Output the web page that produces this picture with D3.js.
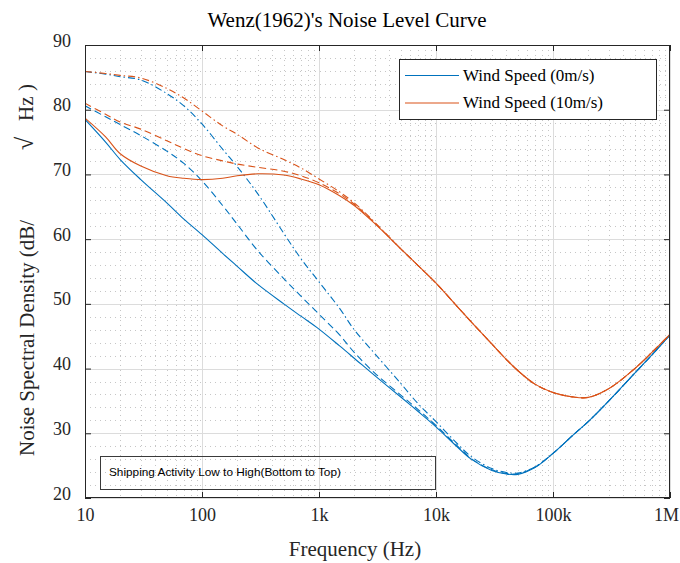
<!DOCTYPE html>
<html>
<head>
<meta charset="utf-8">
<script src="https://cdn.jsdelivr.net/npm/d3@7/dist/d3.min.js"></script>
<style>
  body { margin: 0; background: #fff; }
  svg text { font-family: "Liberation Serif", "Times New Roman", serif; fill: #262626; }
</style>
</head>
<body>
<svg id="chart" width="680" height="563"></svg>
<script>
// Frequencies (Hz) at which each Wenz curve is sampled
const freqs = [10, 15, 20, 30, 50, 70, 100, 150, 200, 300, 500, 700,
  1e3, 1.5e3, 2e3, 3e3, 5e3, 7e3, 1e4, 1.5e4, 2e4, 3e4, 4e4, 5e4, 7e4,
  1e5, 1.5e5, 2e5, 3e5, 5e5, 7e5, 1e6];

// Wind 0 m/s: low / medium / high shipping (dB re 1 uPa/sqrt(Hz))
const wind0Low = [78.5, 75.0, 72.3, 69.2, 65.6, 63.1, 60.7, 57.8, 55.8, 53.0, 50.0, 48.1,
  46.1, 43.5, 41.6, 38.9, 35.6, 33.4, 31.0, 28.0, 26.0, 24.25, 23.7, 23.65, 24.7,
  26.9, 29.8, 31.8, 35.0, 39.3, 42.1, 45.2];
const wind0Mid = [80.6, 78.9, 77.7, 76.0, 73.6, 71.7, 69.0, 65.2, 62.3, 58.2, 53.9, 51.2,
  48.4, 45.2, 42.5, 39.3, 35.9, 33.7, 31.2, 28.15, 26.1, 24.35, 23.8, 23.75, 24.75,
  26.9, 29.8, 31.8, 35.0, 39.3, 42.1, 45.2];
const wind0High = [85.9, 85.5, 85.1, 84.6, 82.5, 80.6, 77.8, 73.9, 71.2, 67.0, 60.9, 57.0,
  53.4, 49.3, 46.0, 42.3, 37.7, 34.6, 31.8, 28.5, 26.4, 24.55, 23.95, 23.85, 24.8,
  26.9, 29.8, 31.8, 35.0, 39.3, 42.1, 45.2];

// Wind 10 m/s: low / medium / high shipping
const wind10Low = [78.7, 75.8, 73.2, 71.3, 69.8, 69.4, 69.2, 69.4, 69.8, 70.1, 69.9, 69.3,
  68.4, 66.7, 65.2, 62.4, 58.5, 55.95, 53.2, 49.7, 47.2, 43.8, 41.4, 39.7, 37.6,
  36.3, 35.6, 35.55, 36.9, 40.0, 42.5, 45.3];
const wind10Mid = [81.0, 79.3, 78.1, 77.0, 75.2, 74.0, 72.9, 72.1, 71.6, 71.1, 70.5, 69.8,
  68.7, 67.0, 65.4, 62.5, 58.5, 55.95, 53.2, 49.7, 47.2, 43.8, 41.4, 39.7, 37.6,
  36.3, 35.6, 35.55, 36.9, 40.0, 42.5, 45.3];
const wind10High = [85.9, 85.6, 85.3, 84.9, 83.3, 81.8, 79.8, 77.5, 76.2, 74.1, 72.3, 71.0,
  69.3, 67.3, 65.6, 62.6, 58.5, 55.95, 53.2, 49.7, 47.2, 43.8, 41.4, 39.7, 37.6,
  36.3, 35.6, 35.55, 36.9, 40.0, 42.5, 45.3];

// Axis ticks
const xTicks = [10, 100, 1e3, 1e4, 1e5, 1e6];
const xTickLabels = ["10", "100", "1k", "10k", "100k", "1M"];
const yTicks = [20, 30, 40, 50, 60, 70, 80, 90];

const legendLabels = ["Wind Speed (0m/s)", "Wind Speed (10m/s)"];
const noteText = "Shipping Activity Low to High(Bottom to Top)";

const blue = "#0072BD", orange = "#D95319";
const series = [
  { values: wind0Low,   color: blue,   dash: null },
  { values: wind0Mid,   color: blue,   dash: "7,4" },
  { values: wind0High,  color: blue,   dash: "7,3,1.5,3" },
  { values: wind10Low,  color: orange, dash: null },
  { values: wind10Mid,  color: orange, dash: "7,4" },
  { values: wind10High, color: orange, dash: "7,3,1.5,3" }
];

const svg = d3.select("#chart");
const L = 85, R = 670, T = 45, B = 498;

const x = d3.scaleLog().domain([10, 1e6]).range([L, R]);
const y = d3.scaleLinear().domain([20, 90]).range([B, T]);

// Minor grid (dotted)
const minorX = [];
for (let d = 10; d < 1e6; d *= 10) for (let k = 2; k <= 9; k++) minorX.push(d * k);
const minorY = d3.range(22, 90, 2).filter(v => v % 10 !== 0);

const grid = svg.append("g").attr("shape-rendering", "crispEdges");
grid.selectAll(".mx").data(minorX).join("line")
  .attr("x1", d => Math.round(x(d)) + 0.5).attr("x2", d => Math.round(x(d)) + 0.5)
  .attr("y1", T).attr("y2", B)
  .attr("stroke", "#c6c6c6").attr("stroke-dasharray", "1,4");
grid.selectAll(".my").data(minorY).join("line")
  .attr("y1", d => Math.round(y(d)) + 0.5).attr("y2", d => Math.round(y(d)) + 0.5)
  .attr("x1", L).attr("x2", R)
  .attr("stroke", "#c6c6c6").attr("stroke-dasharray", "1,4");

// Major grid (solid, light)
grid.selectAll(".gx").data(xTicks).join("line")
  .attr("x1", d => Math.round(x(d)) + 0.5).attr("x2", d => Math.round(x(d)) + 0.5)
  .attr("y1", T).attr("y2", B).attr("stroke", "#dcdcdc");
grid.selectAll(".gy").data(yTicks).join("line")
  .attr("y1", d => Math.round(y(d)) + 0.5).attr("y2", d => Math.round(y(d)) + 0.5)
  .attr("x1", L).attr("x2", R).attr("stroke", "#dcdcdc");

// Shipping note box
const note = svg.append("g");
note.append("rect").attr("x", 100.5).attr("y", 456.5).attr("width", 335).attr("height", 33)
  .attr("fill", "none").attr("stroke", "#3a3a3a").attr("stroke-width", 1);
note.append("text").attr("x", 109).attr("y", 476)
  .style("font-family", "'Liberation Sans', Arial, sans-serif")
  .style("font-size", "11.8px").style("fill", "#000")
  .text(noteText);

// Curves
svg.append("clipPath").attr("id", "plotClip")
  .append("rect").attr("x", L).attr("y", T).attr("width", R - L).attr("height", B - T);

const line = d3.line()
  .x((d, i) => x(freqs[i]))
  .y(d => y(d))
  .curve(d3.curveCatmullRom.alpha(0.5));

svg.append("g").attr("clip-path", "url(#plotClip)")
  .selectAll("path").data(series).join("path")
  .attr("d", s => line(s.values))
  .attr("fill", "none")
  .attr("stroke", s => s.color)
  .attr("stroke-width", 1.1)
  .attr("stroke-dasharray", s => s.dash);

// Axes (ticks point inward on all four sides)
const tickFont = g => g.selectAll("text").style("font-size", "18px")
  .style("font-family", "'Liberation Serif', 'Times New Roman', serif").attr("fill", "#262626");
const tickLines = g => { g.select(".domain").remove(); g.selectAll(".tick line").attr("stroke", "#262626"); };

svg.append("g").attr("transform", `translate(0,${B})`)
  .call(d3.axisBottom(x).tickValues(xTicks).tickFormat((d, i) => xTickLabels[i]).tickSize(-6).tickPadding(10))
  .call(tickLines).call(tickFont)
  .call(g => g.selectAll("text").filter(d => d === 1e6).attr("dx", "-4"));
svg.append("g").attr("transform", `translate(0,${T})`)
  .call(d3.axisTop(x).tickValues(xTicks).tickFormat("").tickSize(-6))
  .call(tickLines);
svg.append("g").attr("transform", `translate(${L},0)`)
  .call(d3.axisLeft(y).tickValues(yTicks).tickSize(-6).tickPadding(14))
  .call(tickLines).call(tickFont)
  .call(g => g.selectAll("text").attr("dy", "0.06em"));
svg.append("g").attr("transform", `translate(${R},0)`)
  .call(d3.axisRight(y).tickValues(yTicks).tickFormat("").tickSize(-6))
  .call(tickLines);

// Axes box
svg.append("rect").attr("x", L + 0.5).attr("y", T + 0.5).attr("width", R - L - 1).attr("height", B - T - 1)
  .attr("fill", "none").attr("stroke", "#262626").attr("stroke-width", 1);

// Title and axis labels
svg.append("text").attr("x", 347).attr("y", 27).attr("text-anchor", "middle")
  .style("font-size", "21px").style("fill", "#000").text("Wenz(1962)'s Noise Level Curve");
svg.append("text").attr("x", 355).attr("y", 556).attr("text-anchor", "middle")
  .style("font-size", "21px").text("Frequency (Hz)");

const yl = svg.append("g").style("font-size", "21px");
yl.append("text").attr("transform", "translate(34,456) rotate(-90)").text("Noise Spectral Density (dB/");
yl.append("text").attr("transform", "translate(33,150) rotate(-90)").style("font-size", "24px").text("\u221A");
yl.append("text").attr("transform", "translate(33,121) rotate(-90)").text("Hz");
yl.append("text").attr("transform", "translate(33,91) rotate(-90)").text(")");

// Legend
const lg = svg.append("g");
lg.append("rect").attr("x", 399.5).attr("y", 59.5).attr("width", 257).attr("height", 60)
  .attr("fill", "#fff").attr("stroke", "#262626").attr("stroke-width", 1);
const items = lg.selectAll(".item").data(legendLabels).join("g")
  .attr("transform", (d, i) => `translate(0,${75.5 + i * 27.5})`);
items.append("line").attr("x1", 405).attr("x2", 459).attr("y1", 0).attr("y2", 0)
  .attr("stroke", (d, i) => i === 0 ? blue : orange).attr("stroke-width", 1.1);
items.append("text").attr("x", 463).attr("y", 5).style("font-size", "17px").style("fill", "#000")
  .text(d => d);
</script>
</body>
</html>
